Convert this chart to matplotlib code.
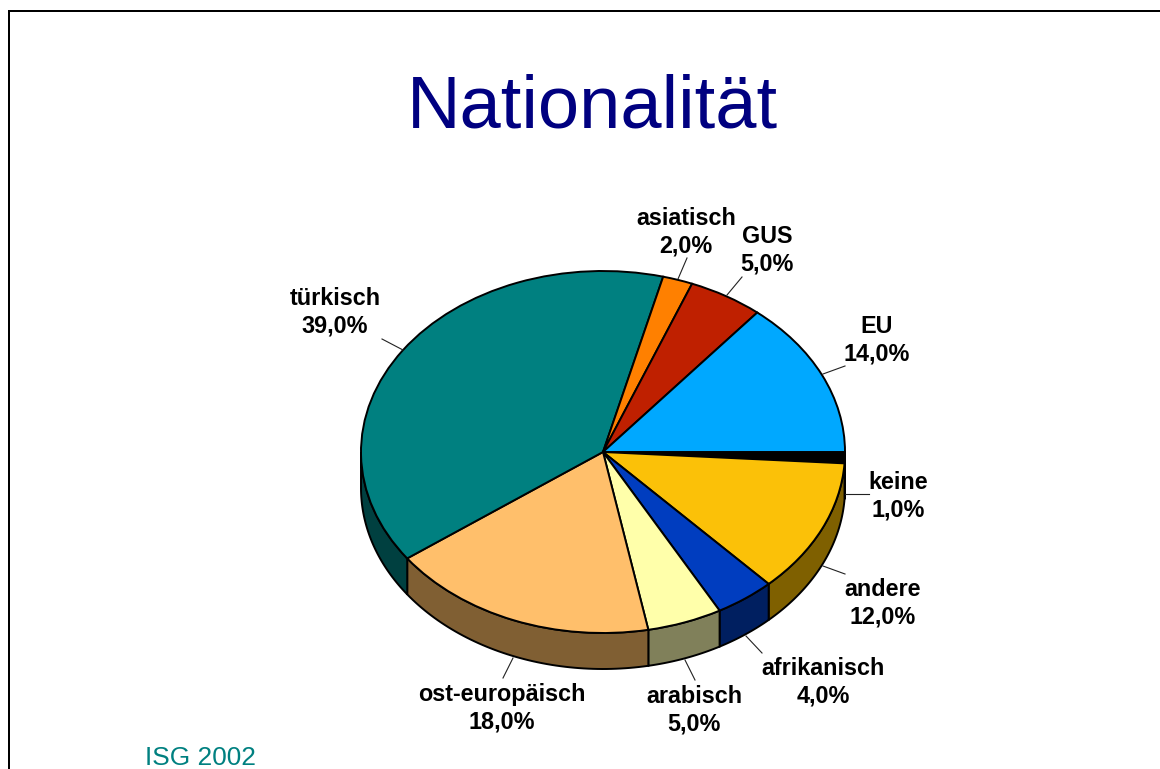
"""Nationalität - 3D-Tortendiagramm"""
import matplotlib
matplotlib.use('Agg')
import matplotlib.pyplot as plt
import numpy as np
from matplotlib.patches import Polygon

plt.rcParams['font.family'] = ['Liberation Sans', 'DejaVu Sans']

# Werte im Uhrzeigersinn ab 3 Uhr
names = ['keine', 'andere', 'afrikanisch', 'arabisch', 'ost-europäisch',
         'türkisch', 'asiatisch', 'GUS', 'EU']
values = [1.0, 12.0, 4.0, 5.0, 18.0, 39.0, 2.0, 5.0, 14.0]

top_colors = ['#000000', '#FBC108', '#003DBF', '#FFFFAA', '#FFBF6B',
              '#008080', '#FF8000', '#BF2000', '#00A8FF']
wall_colors = ['#000000', '#7F6000', '#001F60', '#80805A', '#805F33',
               '#004040', '#804000', '#601000', '#005480']

# Beschriftung: Mitte des Textes und Führungslinie in Pixeln
label_pos = [(898, 496), (883, 603), (823, 682), (694, 710), (502, 708),
             (335, 312), (686, 232), (767, 250), (877, 340)]
leaders = [((845, 494), (869, 494)), ((823, 566), (845, 574)),
           ((746, 636), (762, 653)), ((685, 660), (695, 680)),
           ((513, 658), (503, 678)), ((403, 350), (382, 339)),
           ((678, 279), (687, 258)), ((727, 295), (742, 277)),
           ((823, 374), (845, 366))]

W, H = 1160, 769
CX, CY, RX, RY, DEPTH = 603, 452, 242, 181, 36
EDGE = 1.4

fig = plt.figure(figsize=(W / 100, H / 100), dpi=100, facecolor='white')

# Torte: eigene Achse, damit der Kreis zur Ellipse gestaucht wird
ax = fig.add_axes([(CX - RX) / W, 1 - (CY + RY) / H, 2 * RX / W, 2 * RY / H])
ax.pie(values, colors=top_colors, startangle=0, counterclock=False, radius=1,
       wedgeprops=dict(edgecolor='black', linewidth=EDGE, zorder=2))
ax.set_aspect('auto')
ax.set_xlim(-1, 1)
ax.set_ylim(-1, 1)
ax.axis('off')
for w in ax.patches:
    w.set_clip_on(False)

# Seitenwand nur für die untere Hälfte
d = DEPTH / RY
edges = np.cumsum([0] + values) / 100 * 360
for a0, a1, col in zip(edges[:-1], edges[1:], wall_colors):
    if a0 >= 180:
        continue
    t = np.radians(np.linspace(a0, min(a1, 180), 60))
    xs = np.cos(t)
    ys = -np.sin(t)
    pts = np.vstack([np.column_stack([xs, ys]),
                     np.column_stack([xs[::-1], ys[::-1] - d])])
    ax.add_patch(Polygon(pts, closed=True, facecolor=col, edgecolor='black',
                         linewidth=EDGE, zorder=1, clip_on=False))

# Overlay in Pixelkoordinaten für Texte und Rahmen
ov = fig.add_axes([0, 0, 1, 1])
ov.set_xlim(0, W)
ov.set_ylim(H, 0)
ov.axis('off')

ov.plot([9, 9, W], [H, 11, 11], color='black', lw=1.44, solid_joinstyle='miter')

for (p0, p1) in leaders:
    ov.plot([p0[0], p1[0]], [p0[1], p1[1]], color='#222222', lw=0.8)

for name, v, (x, y) in zip(names, values, label_pos):
    txt = f'{name}\n{v:.1f}%'.replace('.', ',')
    ov.text(x, y, txt, ha='center', va='center', fontsize=16.8,
            fontweight='bold', color='black', linespacing=1.25)

ov.text(592, 108, 'Nationalität', ha='center', va='center', fontsize=53.4, color='#000080')
ov.text(145, 758, 'ISG 2002', ha='left', va='center', fontsize=18.9, color='#008080')

fig.savefig('out.png', dpi=100)
plt.close('all')
